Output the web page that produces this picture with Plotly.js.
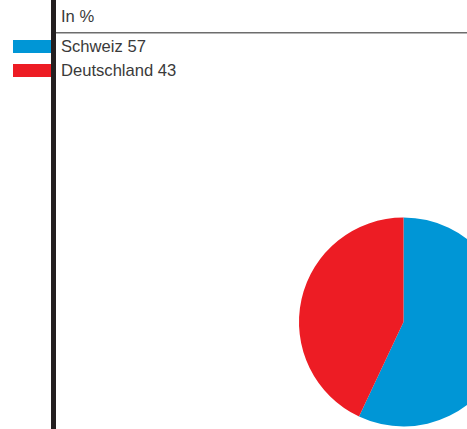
<!DOCTYPE html>
<html>
<head>
<meta charset="utf-8">
<script src="https://cdn.plot.ly/plotly-3.0.1.min.js"></script>
<style>
html,body{margin:0;padding:0;overflow:hidden;background:#fff;}
#chart{width:520px;height:429px;}
</style>
</head>
<body>
<div id="chart"></div>
<script>
const labels = ["Schweiz", "Deutschland"];
const values = [57, 43];
const colors = ["#0096d6", "#ed1c24"];
const unitLabel = "In %";

const W = 520, H = 429;
const px = x => x / W;
const py = y => (H - y) / H;
const FONT = {family:'Liberation Sans, Arial', size:16.6, color:'#3a3a3a'};

const shapes = [
  {type:'rect', xref:'paper', yref:'paper', x0:px(51), x1:px(56), y0:0, y1:1,
   fillcolor:'#231f20', line:{width:0}},
  {type:'line', xref:'paper', yref:'paper', x0:px(56), x1:1, y0:py(32.7), y1:py(32.7),
   line:{color:'#6d6d6d', width:1.5}}
];
const annotations = [
  {xref:'paper', yref:'paper', x:px(59), y:py(17), xanchor:'left', yanchor:'middle',
   text:unitLabel, showarrow:false, font:FONT}
];
labels.forEach((lab, i) => {
  const top = 40 + i * 24;
  shapes.push({type:'rect', xref:'paper', yref:'paper', x0:px(13), x1:px(51),
    y0:py(top + 13), y1:py(top), fillcolor:colors[i], line:{width:0}});
  annotations.push({xref:'paper', yref:'paper', x:px(59), y:py(top + 7), xanchor:'left', yanchor:'middle',
    text:lab + ' ' + values[i], showarrow:false, font:FONT});
});

const trace = {
  type:'pie', labels:labels, values:values, sort:false, direction:'clockwise', rotation:0,
  marker:{colors:colors, line:{width:0}}, textinfo:'none', hoverinfo:'label+value',
  domain:{x:[px(299), px(508)], y:[py(426.5), py(217.5)]}, showlegend:false
};

Plotly.newPlot('chart', [trace], {
  width:W, height:H, margin:{l:0,r:0,t:0,b:0},
  paper_bgcolor:'#fff', plot_bgcolor:'#fff', showlegend:false,
  shapes:shapes, annotations:annotations
}, {staticPlot:true});
</script>
</body>
</html>
